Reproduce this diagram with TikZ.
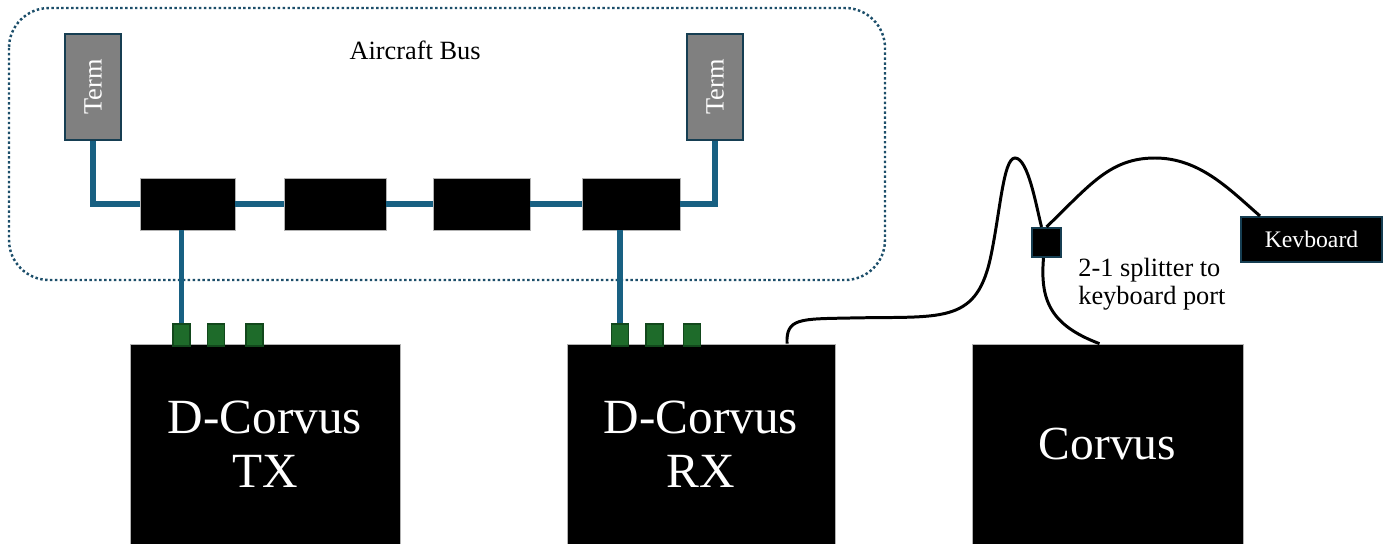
\documentclass[tikz,border=0pt]{standalone}
\usepackage{fontspec}
\usepackage{graphicx}
\setmainfont{Liberation Serif}
\usetikzlibrary{calc}

\definecolor{buscol}{RGB}{24,96,130}
\definecolor{frameblue}{RGB}{28,78,106}
\definecolor{termedge}{RGB}{22,62,82}
\definecolor{termgray}{RGB}{128,128,128}
\definecolor{portgreen}{RGB}{30,107,42}
\definecolor{portedge}{RGB}{18,72,28}

\tikzset{
    term/.style={draw=termedge, line width=1.2pt, fill=termgray, text=white,
        minimum width=1.12cm, minimum height=2.12cm, inner sep=0pt,
        font=\fontsize{15}{18}\selectfont},
    coupler/.style={draw=gray!60, line width=0.4pt, fill=black,
        minimum height=1.04cm, inner sep=0pt},
    port/.style={draw=portedge, line width=0.6pt, fill=portgreen,
        minimum width=0.34cm, minimum height=0.44cm, inner sep=0pt},
    device/.style={draw=gray!60, line width=0.4pt, fill=black, text=white,
        minimum height=4cm, inner sep=0pt, align=center,
        font=\fontsize{28}{31}\selectfont},
    plug/.style={draw=termedge, line width=1.2pt, fill=black, inner sep=0pt},
    bus/.style={buscol, line width=3.4pt},
    cable/.style={black, line width=1.7pt}
}

\begin{document}
\begin{tikzpicture}[x=0.02cm, y=-0.02cm]
        \useasboundingbox (0,0) rectangle (1383,544);

        % Riquadro del bus
        \draw[frameblue, line width=1.4pt, dash pattern=on 1.4pt off 1.4pt, rounded corners=0.8cm]
            (9,8) rectangle (885,280);
        \node[font=\fontsize{15}{18}\selectfont] (busname) at (415,50) {Aircraft Bus};

        % Terminazioni
        \node[term] (termL) at (93,87) {\rotatebox{90}{Term}};
        \node[term] (termR) at (715,87) {\rotatebox{90}{Term}};

        % Accoppiatori sul bus
        \node[coupler, minimum width=1.9cm] (cpl1) at (187.5,204) {};
        \node[coupler, minimum width=2.04cm] (cpl2) at (335,204) {};
        \node[coupler, minimum width=1.94cm] (cpl3) at (481.5,204) {};
        \node[coupler, minimum width=1.96cm] (cpl4) at (631,204) {};

        % Apparati
        \node[device, minimum width=5.4cm] (tx) at (265,444) {D-Corvus\\TX};
        \node[device, minimum width=5.36cm] (rx) at (701,444) {D-Corvus\\RX};
        \node[device, minimum width=5.42cm, font=\fontsize{27}{31}\selectfont] (corvus) at (1107.5,444) {Corvus};

        % Connettori verdi
        \node[port] (tx1) at (181.5,335) {};
        \node[port] (tx2) at (216,335) {};
        \node[port] (tx3) at (254.5,335) {};
        \node[port] (rx1) at (620,335) {};
        \node[port] (rx2) at (654.5,335) {};
        \node[port] (rx3) at (692,335) {};

        % Splitter e tastiera
        \node[plug, minimum size=0.58cm] (split) at (1046.5,242.5) {};
        \node[plug, minimum width=2.82cm, minimum height=0.9cm, text=white,
            font=\fontsize{13.5}{16}\selectfont] (kbd) at (1311.5,239.5) {Kevboard};
        \node[anchor=west, align=left, inner sep=0pt,
            font=\fontsize{15}{16}\selectfont] (splitlabel) at (1078,284) {2-1 splitter to\\keyboard port};

        % Linee del bus
        \draw[bus] (termL.south) |- (cpl1.west);
        \draw[bus] (cpl1.east) -- (cpl2.west);
        \draw[bus] (cpl2.east) -- (cpl3.west);
        \draw[bus] (cpl3.east) -- (cpl4.west);
        \draw[bus] (cpl4.east) -| (termR.south);
        \draw[bus] (cpl1.south -| tx1.north) -- (tx1.north);
        \draw[bus] (cpl4.south -| rx1.north) -- (rx1.north);

        % Cavi
        \coordinate (rxplug) at ($(rx.north)+(86,0)$);
        \draw[cable] (rxplug) .. controls (786,318) and (800,319) .. (850,318)
            .. controls (940,316) and (975,325) .. (990,260)
            .. controls (1000,215) and (1003,158) .. (1015,158)
            .. controls (1028,158) and (1036,205) .. ($(split.north)+(-5,0)$);
        \draw[cable] (split.north) .. controls (1090,185) and (1110,158) .. (1155,158)
            .. controls (1200,158) and (1230,190) .. ($(kbd.north west)+(20,0)$);
        \draw[cable] ($(split.south)+(-3,0)$) .. controls (1040,300) and (1050,325) .. ($(corvus.north)+(-8,0)$);
    \end{tikzpicture}
\end{document}
